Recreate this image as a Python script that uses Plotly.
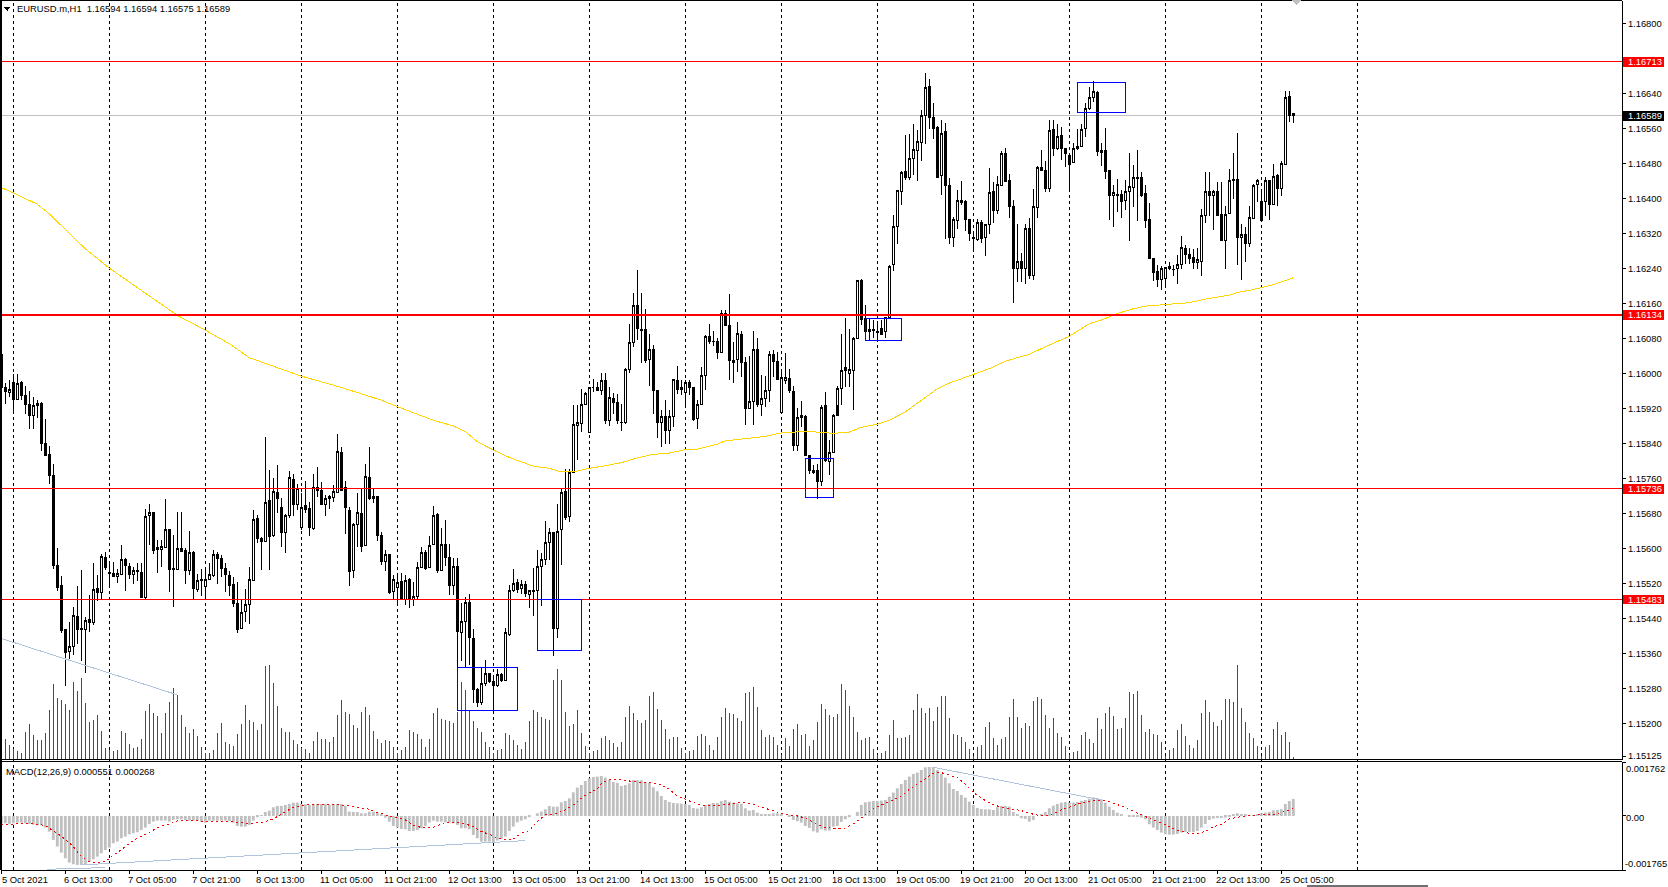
import plotly.graph_objects as go

W, H = 1668, 887

# prices are kept as points above 1.15000 (1640 = 1.16640)
opens = [1044,968,956,980,940,980,950,930,903,926,
932,840,815,767,561,514,415,364,376,445,
417,415,438,430,508,498,579,545,543,535,
541,575,559,540,550,545,487,675,682,601,
598,601,643,554,551,599,596,549,591,505,
529,512,529,539,586,577,553,539,518,474,
416,455,471,527,668,623,615,710,629,728,
693,636,676,758,701,647,698,691,645,739,
733,700,714,716,728,819,739,687,549,655,
680,606,762,718,718,630,569,586,501,510,
524,483,529,484,489,556,591,556,608,678,
550,609,578,515,559,408,433,477,394,278,
247,290,314,296,286,312,298,404,503,522,
508,518,494,504,504,559,575,614,636,417,
643,731,672,773,882,885,929,866,967,968,
962,984,893,943,934,889,888,1010,1070,1155,
1101,1100,1032,1055,962,889,902,870,901,985,
963,956,980,969,896,930,995,1085,1074,1072,
1047,1137,1110,1030,1032,1090,1025,921,936,1055,
928,943,961,1043,1027,910,983,989,959,835,
899,902,812,779,779,752,927,798,819,904,
965,1014,999,1006,1081,1213,1126,1095,1100,1097,
1103,1095,1127,1249,1335,1416,1462,1449,1491,1511,
1529,1590,1657,1586,1563,1452,1553,1430,1312,1351,
1395,1394,1352,1310,1306,1345,1311,1340,1416,1372,
1431,1503,1441,1382,1240,1256,1239,1331,1223,1379,
1471,1464,1422,1558,1515,1544,1515,1498,1482,1514,
1518,1560,1605,1631,1642,1510,1510,1464,1408,1409,
1409,1395,1416,1425,1448,1448,1411,1352,1262,1234,
1216,1217,1244,1238,1239,1250,1286,1272,1265,1253,
1256,1361,1417,1406,1416,1363,1303,1367,1444,1443,
1312,1317,1297,1355,1432,1393,1393,1441,1387,1452,
1423,1479,1633,1594]

highs = [1079,979,986,998,998,983,972,960,947,939,
934,896,834,792,600,537,415,431,465,515,
550,442,493,566,540,587,591,564,568,553,
607,577,567,557,566,566,691,701,684,620,
620,714,643,630,683,683,600,640,594,541,
552,550,567,596,591,585,566,549,535,522,
482,507,557,688,676,627,854,780,761,790,
716,678,777,769,748,726,754,707,771,786,
752,722,723,746,861,831,754,695,659,726,
735,794,831,737,719,638,596,587,539,544,
543,538,532,524,569,604,596,628,697,680,
646,665,610,579,579,476,488,496,415,280,
327,345,314,303,323,316,419,516,552,529,
528,525,504,554,596,590,662,646,636,701,
739,781,781,927,927,965,958,968,988,981,
1002,1002,969,955,954,930,1013,1114,1183,1237,
1183,1148,1091,1065,962,916,939,916,986,1017,
986,986,985,969,939,1014,1087,1113,1097,1082,
1145,1145,1181,1071,1117,1097,1038,1040,1097,1082,
996,994,1052,1053,1049,1007,1046,1011,971,921,
937,905,812,790,793,927,957,849,907,972,
1091,1126,1101,1084,1213,1217,1156,1126,1123,1114,
1122,1127,1247,1362,1420,1462,1545,1548,1571,1556,
1603,1688,1673,1618,1566,1579,1573,1446,1359,1419,
1440,1396,1352,1320,1354,1350,1343,1471,1438,1451,
1509,1516,1457,1397,1343,1276,1343,1356,1423,1474,
1512,1487,1580,1580,1571,1564,1516,1498,1527,1560,
1571,1618,1655,1669,1647,1528,1562,1464,1430,1445,
1419,1442,1505,1477,1510,1461,1430,1390,1262,1247,
1245,1244,1255,1247,1270,1314,1293,1288,1285,1288,
1376,1461,1461,1420,1438,1437,1384,1468,1505,1551,
1342,1335,1384,1434,1445,1420,1449,1441,1478,1457,
1487,1646,1647,1594]

lows = [962,930,947,910,940,940,908,872,873,899,
823,811,747,553,503,407,285,348,356,381,
343,316,409,424,480,483,550,516,535,520,
539,503,531,518,526,487,485,607,588,543,
558,601,501,465,551,592,518,539,483,501,
491,483,531,535,518,534,501,492,465,407,
415,432,427,525,613,550,615,550,627,681,
604,590,670,674,687,642,680,629,643,718,
701,674,690,707,728,732,633,514,533,604,
592,605,710,703,617,562,549,495,484,471,
484,471,464,469,484,555,550,554,607,544,
548,560,493,493,329,343,329,333,246,238,
242,286,293,230,284,295,297,400,501,497,
496,488,463,446,481,469,562,573,354,396,
562,665,661,773,802,866,929,866,958,960,
950,885,879,908,885,869,885,1001,1061,1076,
1024,1023,971,908,853,832,838,838,878,954,
951,927,950,892,873,927,962,1068,1062,1033,
1047,1110,985,979,1004,991,883,919,883,924,
902,924,935,992,985,910,975,956,823,823,
878,812,771,771,712,742,798,767,817,927,
929,969,969,916,1078,1110,1076,1076,1082,1076,
1090,1080,1127,1234,1295,1385,1443,1442,1453,1440,
1485,1525,1560,1536,1447,1408,1307,1295,1289,1330,
1385,1326,1302,1285,1304,1298,1269,1318,1344,1364,
1428,1437,1356,1161,1209,1209,1205,1217,1213,1356,
1463,1414,1415,1497,1510,1489,1472,1421,1481,1512,
1518,1541,1603,1621,1497,1474,1444,1352,1335,1369,
1355,1373,1302,1381,1349,1403,1333,1262,1211,1198,
1190,1198,1236,1222,1205,1239,1251,1251,1240,1240,
1224,1344,1361,1327,1361,1303,1238,1365,1400,1247,
1213,1255,1289,1354,1392,1349,1361,1350,1387,1384,
1406,1479,1575,1573]

closes = [968,958,963,940,977,949,929,903,927,931,
840,813,766,560,510,413,361,376,447,415,
414,435,430,506,498,582,556,542,535,543,
575,560,540,550,547,487,673,682,595,598,
604,643,552,551,600,594,549,591,508,527,
526,529,540,586,577,553,540,515,473,414,
454,472,529,666,622,615,705,627,729,713,
636,675,761,701,737,693,690,647,739,733,
701,714,719,730,822,733,693,547,655,682,
605,764,715,715,630,569,586,498,529,522,
486,527,486,490,556,591,555,607,675,550,
609,579,516,559,409,433,476,396,278,247,
291,314,295,286,312,297,408,504,519,505,
517,496,504,501,559,575,613,636,417,639,
728,671,774,883,888,929,954,968,967,962,
984,892,945,933,892,888,1009,1070,1155,1103,
1098,1030,1055,962,889,901,870,902,986,964,
969,979,967,895,930,995,1085,1072,1072,1047,
1137,1110,1029,1024,1091,1024,919,936,1055,928,
943,961,1043,1027,986,990,991,960,835,899,
905,812,779,774,752,923,800,819,904,966,
1007,1006,1009,1080,1212,1123,1095,1100,1099,1094,
1090,1127,1244,1335,1419,1459,1449,1491,1512,1531,
1590,1654,1585,1561,1449,1548,1431,1312,1352,1395,
1392,1353,1319,1308,1345,1308,1341,1415,1372,1432,
1503,1440,1381,1241,1256,1239,1331,1223,1381,1471,
1464,1424,1556,1514,1543,1514,1504,1479,1514,1518,
1559,1605,1631,1644,1508,1506,1463,1408,1413,1407,
1394,1416,1427,1448,1447,1408,1350,1262,1232,1215,
1239,1242,1239,1237,1249,1288,1271,1264,1253,1260,
1361,1416,1406,1416,1362,1303,1363,1441,1442,1312,
1317,1298,1356,1430,1441,1349,1441,1387,1451,1424,
1480,1631,1591,1589]

volumes = [63,61,43,30,26,20,83,106,73,58,
58,80,148,226,183,178,166,148,231,206,
243,170,113,118,133,85,33,28,26,28,
85,80,46,35,37,61,145,166,138,130,
78,138,173,213,193,133,96,78,90,70,
38,18,20,28,80,110,53,45,41,76,
106,163,118,113,88,106,281,283,228,160,
93,83,83,58,45,33,31,20,55,83,
61,61,53,68,133,178,143,135,103,93,
141,156,133,85,60,48,58,56,36,18,
28,36,88,83,75,61,38,61,140,155,
120,118,116,110,143,233,208,148,115,93,
83,53,38,18,28,31,80,73,58,43,
31,53,116,148,143,126,120,118,238,270,
238,143,101,106,148,80,41,18,26,28,
65,70,58,50,38,52,128,160,140,118,
110,118,190,202,151,118,91,61,67,67,
34,18,26,28,70,76,70,44,28,67,
127,154,138,136,123,116,199,202,217,157,
88,67,72,67,44,13,64,40,91,106,
73,76,40,58,112,166,151,133,127,136,
226,208,160,127,82,58,64,67,31,13,
19,25,73,118,64,64,67,73,148,196,
154,139,154,115,157,190,190,124,76,73,
67,52,31,10,37,43,97,112,64,43,
61,67,127,181,127,94,109,100,175,187,
181,133,94,124,79,67,40,13,22,25,
73,82,61,49,124,91,139,157,130,91,
94,124,202,196,205,133,82,91,76,73,
52,11,28,34,88,106,70,43,34,58,
139,178,142,112,100,118,181,181,172,283,
154,112,79,64,40,10,37,43,91,112,
73,82,52,7]

# MACD histogram, in steps of MACD_STEP
macd_hist = [-22,-22,-24,-22,-20,-20,-22,-24,-26,-28,-28,-35,
-47,-72,-92,-110,-127,-140,-145,-147,
-147,-145,-137,-130,-122,-112,-102,-95,-82,-77,
-67,-62,-55,-52,-49,-42,-35,-24,-17,-14,
-14,-14,-17,-12,-10,-10,-12,-14,-14,-14,
-17,-20,-14,-14,-14,-14,-14,-15,-20,-30,
-32,-32,-27,-14,-4,2,12,16,26,30,
30,33,36,40,40,36,35,33,36,36,
36,36,34,36,36,36,30,13,12,12,
8,8,13,13,10,3,-5,-17,-30,-35,
-39,-40,-45,-45,-42,-37,-30,-20,-14,-17,
-17,-19,-19,-22,-27,-37,-37,-40,-57,-67,
-77,-77,-77,-79,-74,-69,-62,-45,-32,-19,
-14,-10,-4,0,8,13,20,30,
28,28,41,45,53,71,85,93,105,113,
117,118,120,115,108,102,99,90,93,98,
108,108,107,101,99,86,74,60,48,42,
39,38,37,36,33,24,22,26,33,36,
39,39,45,48,43,40,38,36,23,16,
18,10,6,4,4,8,8,4,0,-2,
-12,-16,-20,-30,-36,-46,-50,-40,-44,-44,
-32,-30,-18,-10,-4,0,12,33,41,43,
45,45,46,48,58,70,83,96,108,118,
126,130,138,146,147,147,138,126,115,98,
81,75,63,55,43,33,24,21,20,20,
18,26,30,30,28,12,3,-7,-9,-17,
-12,0,4,12,23,31,36,40,42,40,
40,42,45,48,52,56,54,50,40,28,
18,10,4,0,-2,-2,-2,-5,-10,-25,
-35,-42,-50,-55,-56,-56,-54,-50,-48,-48,
-48,-45,-35,-24,-12,-8,-6,-6,-5,-2,
4,8,5,3,2,2,6,8,10,12,
17,18,20,36,45,51]

# signal line read at these bars
signal_bars = [0,3,5,9,11,12,14,16,18,20,22,24,26,28,30,32,34,36,38,40,42,44,46,49,51,55,59,62,65,67,69,71,73,75,77,80,83,86,89,92,94,97,99,101,103,105,108,110,112,114,116,118,120,122,124,126,128,130,132,134,136,138,141,143,145,147,149,150,152,154,156,158,161,164,167,169,171,173,176,178,180,183,185,188,190,193,195,199,201,204,206,209,211,213,216,218,222,225,227,231,233,235,237,239,241,243,246,248,250,252,255,257,260,262,265,267,269,273,276,278,280,283,286,288,291,294,297,299,301,303,305,307,310,312,315,318,320,322,323]
signal_vals = [-27,-24,-22,-25,-29,-37,-52,-70,-92,-122,-137,-140,-137,-117,-102,-82,-67,-55,-42,-30,-24,-15,-14,-14,-17,-16,-19,-24,-19,-14,-2,13,26,31,34,35,35,32,26,20,10,1,-4,-12,-27,-35,-34,-25,-20,-20,-24,-32,-47,-55,-67,-72,-70,-52,-44,-17,3,5,18,33,53,70,80,98,108,110,107,103,100,98,80,60,50,40,30,30,33,38,40,36,26,16,7,0,-6,-25,-35,-38,-36,-24,3,22,43,60,80,113,128,130,123,115,95,70,46,34,26,22,16,8,0,2,18,26,36,45,47,38,30,14,-2,-12,-26,-44,-52,-52,-47,-32,-26,-9,-2,0,4,4,10,17,25]

# 200 period average, read at these bars (points above 1.15000)
ma_bars = [0,3,9,12,21,27,35,44,51,57,62,71,75,85,95,99,108,113,116,119,123,127,133,137,140,144,147,151,155,159,163,167,171,174,179,181,186,191,195,200,204,208,212,215,219,222,226,230,234,237,243,247,251,257,261,267,272,275,279,283,286,291,297,301,307,309,313,318,323]
ma_vals = [1425,1413,1387,1365,1285,1241,1190,1133,1099,1068,1036,1007,994,968,939,924,893,880,867,844,825,808,788,783,775,777,783,789,796,807,815,818,826,827,838,846,851,856,864,867,866,863,866,877,884,893,912,939,965,978,997,1011,1028,1044,1061,1085,1114,1122,1137,1148,1154,1158,1162,1170,1179,1185,1192,1203,1219]

level_prices = [1.16713, 1.16134, 1.15736, 1.15483]
level_labels = ["1.16713", "1.16134", "1.15736", "1.15483"]
level_widths = [1, 2, 1, 1]
last_price = 1.16589

# drawn rectangles: first bar, last bar, top, bottom (points above 1.15000)
rect_bars = [(114, 129), (134, 145), (201, 208), (216, 225), (269, 281)]
rect_points = [(328, 230), (483, 367), (806, 716), (1126, 1075), (1665, 1596)]

# trend lines
price_trend_bars = [0, 44]
price_trend_points = [394, 265]
macd_trends = [([11.5, 26], [-160, -155]), ([20, 131], [-147, -74]), ([233, 275], [146, 48])]

date_labels = ["5 Oct 2021", "6 Oct 13:00", "7 Oct 05:00", "7 Oct 21:00", "8 Oct 13:00", "11 Oct 05:00",
               "11 Oct 21:00", "12 Oct 13:00", "13 Oct 05:00", "13 Oct 21:00", "14 Oct 13:00", "15 Oct 05:00",
               "15 Oct 21:00", "18 Oct 13:00", "19 Oct 05:00", "19 Oct 21:00", "20 Oct 13:00", "21 Oct 05:00",
               "21 Oct 21:00", "22 Oct 13:00", "25 Oct 05:00"]
date_bars = list(range(0, 321, 16))
midnight_bars = list(range(3, 340, 24))
price_ticks = [1.16800, 1.16720, 1.16640, 1.16560, 1.16480, 1.16400, 1.16320, 1.16240, 1.16160, 1.16080,
               1.16000, 1.15920, 1.15840, 1.15760, 1.15680, 1.15600, 1.15520, 1.15440, 1.15360, 1.15280,
               1.15200, 1.15125]

assert all(len(a) == 324 for a in (opens, highs, lows, closes, volumes, macd_hist))
assert len(signal_bars) == len(signal_vals) and len(ma_bars) == len(ma_vals)

MACD_STEP = 1.088e-5
FONT = "Liberation Sans"
FONT_SIZE = 9.4
bars = list(range(324))


def price(points):
    return [1.15 + p / 100000 for p in points]


def macd(steps):
    return [s * MACD_STEP for s in steps]


def fx(px):
    return px / W


def fy(px):
    return 1 - px / H


fig = go.Figure()

# volumes sit under the candles, as one pixel sticks
vol_x, vol_y = [], []
for b, v in zip(bars, volumes):
    vol_x += [b, b, None]
    vol_y += [0, v, None]
fig.add_trace(go.Scatter(x=vol_x, y=vol_y, mode="lines", line=dict(color="#008000", width=1),
                         xaxis="x", yaxis="y"))
fig.add_trace(go.Candlestick(x=bars, open=price(opens), high=price(highs), low=price(lows), close=price(closes),
                             xaxis="x", yaxis="y2", whiskerwidth=0,
                             increasing=dict(line=dict(color="black", width=1), fillcolor="white"),
                             decreasing=dict(line=dict(color="black", width=1), fillcolor="black")))
fig.add_trace(go.Scatter(x=ma_bars, y=price(ma_vals), mode="lines", line=dict(color="#FFD700", width=1),
                         xaxis="x", yaxis="y2"))
fig.add_trace(go.Scatter(x=price_trend_bars, y=price(price_trend_points), mode="lines",
                         line=dict(color="#B0C4DE", width=1), xaxis="x", yaxis="y2"))

fig.add_trace(go.Bar(x=bars, y=macd(macd_hist), width=0.72, marker=dict(color="#C0C0C0", line_width=0),
                     xaxis="x", yaxis="y3"))
fig.add_trace(go.Scatter(x=signal_bars, y=macd(signal_vals), mode="lines",
                         line=dict(color="#FF0000", width=1, dash="2px,3px"), xaxis="x", yaxis="y3"))
for tb, tv in macd_trends:
    fig.add_trace(go.Scatter(x=tb, y=macd(tv), mode="lines", line=dict(color="#B0C4DE", width=1),
                             xaxis="x", yaxis="y3"))

shapes = []
for b in midnight_bars:
    shapes.append(dict(type="line", xref="x", yref="paper", x0=b, x1=b, y0=fy(870), y1=fy(0), layer="below",
                       line=dict(color="black", width=1, dash="3px,3px")))

shapes.append(dict(type="line", xref="paper", yref="y2", x0=fx(1), x1=fx(1622), y0=last_price, y1=last_price,
                   layer="below", line=dict(color="#C0C0C0", width=1)))
for lp, lw in zip(level_prices, level_widths):
    shapes.append(dict(type="line", xref="paper", yref="y2", x0=fx(1), x1=fx(1622), y0=lp, y1=lp,
                       line=dict(color="#FF0000", width=lw)))
for (b0, b1), (p0, p1) in zip(rect_bars, rect_points):
    shapes.append(dict(type="rect", xref="x", yref="y2", x0=b0, x1=b1, y0=1.15 + p0 / 100000, y1=1.15 + p1 / 100000,
                       line=dict(color="#0000FF", width=1), fillcolor="rgba(0,0,0,0)"))

# pane frame
for y in (0.5, 759.5, 761.5):
    shapes.append(dict(type="line", xref="paper", yref="paper", x0=fx(0), x1=fx(1622), y0=fy(y), y1=fy(y),
                       line=dict(color="black", width=1)))
shapes.append(dict(type="line", xref="paper", yref="paper", x0=fx(1), x1=fx(1), y0=fy(870), y1=fy(0),
                   line=dict(color="black", width=1.5)))

# price flags on the axis
for lp in level_prices:
    shapes.append(dict(type="rect", xref="paper", yref="y2", x0=fx(1623), x1=fx(1664), y0=lp - 0.00011,
                       y1=lp + 0.00011, fillcolor="#FF0000", line_width=0))
shapes.append(dict(type="rect", xref="paper", yref="y2", x0=fx(1623), x1=fx(1664), y0=last_price - 0.00012,
                   y1=last_price + 0.00012, fillcolor="black", line_width=0))

# small markers: symbol menu arrow, chart shift arrow, window scrollbar
shapes.append(dict(type="path", xref="paper", yref="paper", fillcolor="black", line_width=0,
                   path=f"M {fx(4)} {fy(7)} L {fx(10.5)} {fy(7)} L {fx(7.2)} {fy(11)} Z"))
shapes.append(dict(type="path", xref="paper", yref="paper", fillcolor="#C0C0C0", line_width=0,
                   path=f"M {fx(1291)} {fy(0)} L {fx(1301)} {fy(0)} L {fx(1296)} {fy(5)} Z"))
shapes.append(dict(type="rect", xref="paper", yref="paper", x0=fx(1307), x1=fx(1428), y0=fy(887), y1=fy(885),
                   fillcolor="#707070", line_width=0))

annotations = []


def add_text(text, px_x, px_y, color="black", anchor="left"):
    annotations.append(dict(text=text, xref="paper", yref="paper", x=fx(px_x), y=fy(px_y), xanchor=anchor,
                            yanchor="middle", showarrow=False, align="left", borderpad=0,
                            font=dict(family=FONT, size=FONT_SIZE, color=color)))


add_text("EURUSD.m,H1&nbsp;&nbsp;1.16594 1.16594 1.16575 1.16589", 16, 8.5)
add_text("MACD(12,26,9) 0.000551 0.000268", 5, 771)
add_text("0.001762", 1625, 768.5)
add_text("0.00", 1625, 817)
add_text("-0.001765", 1624, 863.5)
for lab, lp in zip(level_labels, level_prices):
    annotations.append(dict(text=lab, xref="paper", yref="y2", x=fx(1627), y=lp, xanchor="left", yanchor="middle",
                            showarrow=False, borderpad=0, font=dict(family=FONT, size=FONT_SIZE, color="white")))
annotations.append(dict(text="1.16589", xref="paper", yref="y2", x=fx(1627), y=last_price, xanchor="left",
                        yanchor="middle", showarrow=False, borderpad=0,
                        font=dict(family=FONT, size=FONT_SIZE, color="white")))
for b, lab in zip(date_bars, date_labels):
    annotations.append(dict(text=lab, xref="x", yref="paper", x=max(b - 0.5, 0), y=fy(879), xanchor="left",
                            yanchor="middle", showarrow=False, borderpad=0,
                            font=dict(family=FONT, size=FONT_SIZE, color="black")))

fig.update_layout(
    width=W, height=H, template="none", showlegend=False, hovermode=False, dragmode=False,
    margin=dict(l=0, r=0, t=0, b=0, pad=0), paper_bgcolor="white", plot_bgcolor="white",
    barmode="overlay", boxgap=0.3, shapes=shapes, annotations=annotations,
    xaxis=dict(domain=[fx(1), fx(1622)], range=[-0.075, 405.17], anchor="y3", automargin=False,
               tickvals=date_bars, showticklabels=False, ticks="outside", ticklen=3, tickcolor="black",
               showline=True, linecolor="black", linewidth=1, showgrid=False, zeroline=False,
               rangeslider=dict(visible=False)),
    yaxis=dict(domain=[fy(760), fy(0.5)], range=[-2, 2276], visible=False, fixedrange=True, automargin=False),
    yaxis2=dict(domain=[fy(760), fy(0.5)], overlaying="y", side="right", anchor="x", automargin=False,
                range=[1.15116, 1.16853], tickmode="array", tickvals=price_ticks,
                ticktext=["" if t == 1.16720 else f"{t:.5f}" for t in price_ticks],
                ticks="outside", ticklen=3, tickcolor="black", showline=True, linecolor="black", linewidth=1,
                showgrid=False, zeroline=False, tickfont=dict(family=FONT, size=FONT_SIZE, color="black")),
    yaxis3=dict(domain=[fy(870), fy(762)], side="right", anchor="x", automargin=False,
                range=[-0.001765, 0.001762], tickmode="array", tickvals=[-0.001765, 0, 0.001762],
                showticklabels=False, ticks="outside", ticklen=3, tickcolor="black", showline=True,
                linecolor="black", linewidth=1, showgrid=False, zeroline=False),
)

# the terminal draws without anti-aliasing
crisp = ("document.body.style.margin='0';document.body.style.overflow='hidden';"
         "document.querySelectorAll('.shapelayer path, .scatterlayer path.js-line, .boxlayer path')"
         ".forEach(function(p){p.style.shapeRendering='crispEdges';});")
fig.write_html("out.html", config=dict(displayModeBar=False), post_script=crisp)
